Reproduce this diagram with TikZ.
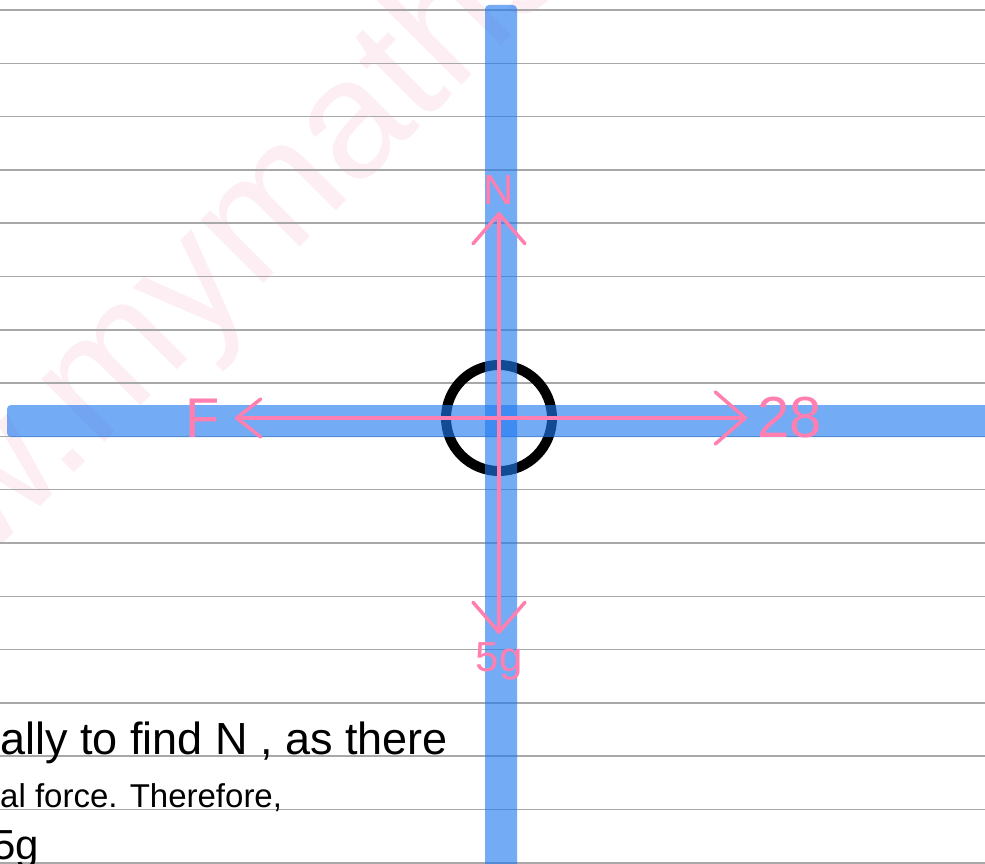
\documentclass[tikz,border=0pt]{standalone}
\usepackage{fontspec}
\setmainfont{Liberation Sans}
\usetikzlibrary{arrows.meta,positioning}
\definecolor{barblue}{HTML}{1E78F0}
\definecolor{forcepink}{HTML}{FF7FB0}
\definecolor{rulegray}{HTML}{A8A8A8}
\definecolor{markpink}{HTML}{FDEEF4}

\tikzset{
  ruled/.style={rulegray, line width=1.5pt},
  bar/.style={fill=barblue, fill opacity=0.62, rounded corners=4pt},
  force/.style={forcepink, line width=3.5pt, line cap=round,
    -{Straight Barb[length=30pt,width=52pt,round]}},
  forcelbl/.style={text=forcepink, inner sep=0pt},
  note/.style={text=black, inner sep=0pt, anchor=base west},
}

\begin{document}
\begin{tikzpicture}[x=1pt,y=-1pt]
  \useasboundingbox (0,0) rectangle (985,864);
  \clip (0,0) rectangle (985,864);
  \fill[white] (0,0) rectangle (985,864);
  % watermark
  \node[rotate=45, anchor=base west, inner sep=0pt, text=markpink,
    font=\fontsize{168}{168}\selectfont] (mark) at (-187,734) {www.mymaths.co.uk};
  % paper lines
  \foreach \k in {0,...,16}
    \draw[ruled] (0,{10+53.3*\k}) -- (985,{10+53.3*\k});
  % particle
  \coordinate (c) at (499,418);
  \draw[black, line width=10pt] (c) circle (53);
  % blue cross
  \path[bar] (485,5) rectangle (517,900);
  \path[bar] (7,405) rectangle (1000,437);
  % forces
  \coordinate (tipN) at (499,212);
  \coordinate (tipF) at (235,418);
  \coordinate (tip28) at (747,418);
  \coordinate (tip5g) at (499,634);
  \draw[force] (c) -- (tipN);
  \draw[force] (c) -- (tip5g);
  \draw[force] (c) -- (tip28);
  \draw[force, -{Straight Barb[length=24pt,width=38pt,round]}] (c) -- (tipF);
  \node[forcelbl, font=\fontsize{42}{42}\selectfont, above=7pt of tipN] (N) {N};
  \node[forcelbl, font=\fontsize{42}{42}\selectfont, below=8pt of tip5g] (W) {5g};
  \node[forcelbl, font=\fontsize{56}{56}\selectfont, left=15pt of tipF] (F) {F};
  \node[forcelbl, font=\fontsize{58}{58}\selectfont, right=10pt of tip28] (P) {28};
  % working below
  \node[note, font=\fontsize{45}{45}\selectfont] (line1) at (0,754) {ally to find N , as there};
  \node[note, font=\fontsize{33}{33}\selectfont] (line2) at (0,807) {al force. Therefore,};
  \node[note, font=\fontsize{42}{42}\selectfont] (line3) at (-8,859) {5g};
\end{tikzpicture}
\end{document}
